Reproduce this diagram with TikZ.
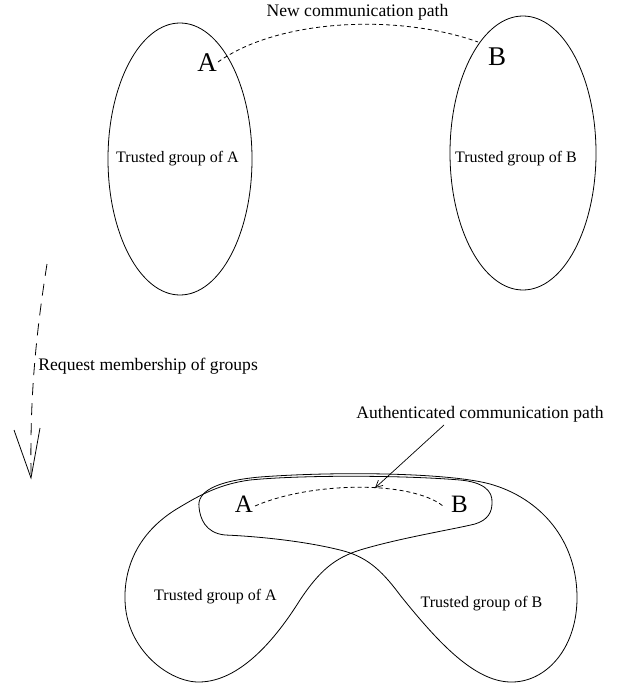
\documentclass[tikz,border=0pt]{standalone}
\usepackage{fontspec}
\setmainfont{Liberation Serif}
\usetikzlibrary{arrows.meta}
\begin{document}
\begin{tikzpicture}[x=1pt,y=-1pt,line width=0.8pt,
  every node/.style={inner sep=0pt,anchor=base},
  lbl/.style={font=\fontsize{17.6}{20}\selectfont},
  grp/.style={font=\fontsize{16}{19}\selectfont},
  bigtop/.style={font=\fontsize{27}{30}\selectfont},
  bigbot/.style={font=\fontsize{25}{28}\selectfont},
  fine dash/.style={dash pattern=on 4pt off 3pt},
  long dash/.style={dash pattern=on 12pt off 8pt}]
\useasboundingbox (0,0) rectangle (616,687);

% ---- before: two separate trusted groups
\draw (180,159) ellipse [x radius=72pt, y radius=136pt];
\draw (523,153) ellipse [x radius=73pt, y radius=137pt];
\node[grp] (tgA) at (177.5,162) {Trusted group of A};
\node[grp] (tgB) at (516,162) {Trusted group of B};

\node[bigtop] (Atop) at (207,72) {A};
\node[bigtop] (Btop) at (497,66) {B};
\coordinate (pathA) at (218,62);
\coordinate (pathB) at (478,42);
\draw[fine dash] (pathA) .. controls (280,18) and (400,14) .. (pathB);
\node[lbl] (newpath) at (357.5,17) {New communication path};

% ---- transition arrow
\coordinate (reqtail) at (47,264);
\coordinate (reqend) at (31,474);
\coordinate (reqtip) at (31,478);
\coordinate (reqL) at (14,430);
\coordinate (reqR) at (40,428);
\draw[long dash] (reqtail) .. controls (35,340) and (30,400) .. (reqend);
\draw (reqL) -- (reqtip) -- (reqR);
\node[lbl,anchor=base west] (req) at (38,370) {Request membership of groups};

% ---- after: overlapping trusted groups
% group of B: right lobe with an arm reaching left around A
\draw (199,507) .. controls (197,492) and (215,481) .. (260,477)
  .. controls (340,471) and (450,473) .. (490,484)
  .. controls (540,498) and (578,540) .. (577,600)
  .. controls (576,650) and (545,683) .. (510,682)
  .. controls (475,681) and (440,645) .. (400,595)
  .. controls (380,568) and (365,556) .. (340,550)
  .. controls (300,540) and (250,536) .. (225,535)
  .. controls (205,533) and (200,518) .. (199,507) -- cycle;
% group of A: left lobe with an arm reaching right around B
\draw (492,503) .. controls (493,490) and (482,482) .. (460,480)
  .. controls (400,475) and (300,475) .. (250,480)
  .. controls (220,484) and (200,495) .. (180,507)
  .. controls (140,530) and (124,565) .. (125,600)
  .. controls (126,650) and (170,683) .. (200,682)
  .. controls (240,681) and (275,640) .. (300,600)
  .. controls (320,570) and (335,558) .. (360,550)
  .. controls (400,538) and (450,530) .. (475,524)
  .. controls (488,520) and (492,512) .. (492,503) -- cycle;

\node[grp] (tgA2) at (215.5,600) {Trusted group of A};
\node[grp] (tgB2) at (481.5,607) {Trusted group of B};

\node[bigbot] (Abot) at (244,512) {A};
\node[bigbot] (Bbot) at (459.5,512) {B};
\coordinate (authA) at (255,506);
\coordinate (authB) at (443,506);
\draw[fine dash] (authA) .. controls (310,482) and (410,480) .. (authB);

\node[lbl] (auth) at (480,418) {Authenticated communication path};
\coordinate (authtail) at (444,425);
\coordinate (authtip) at (375,488);
\draw[line width=0.7pt,-{Straight Barb[length=7pt,width=7pt]}] (authtail) -- (authtip);
\end{tikzpicture}
\end{document}
